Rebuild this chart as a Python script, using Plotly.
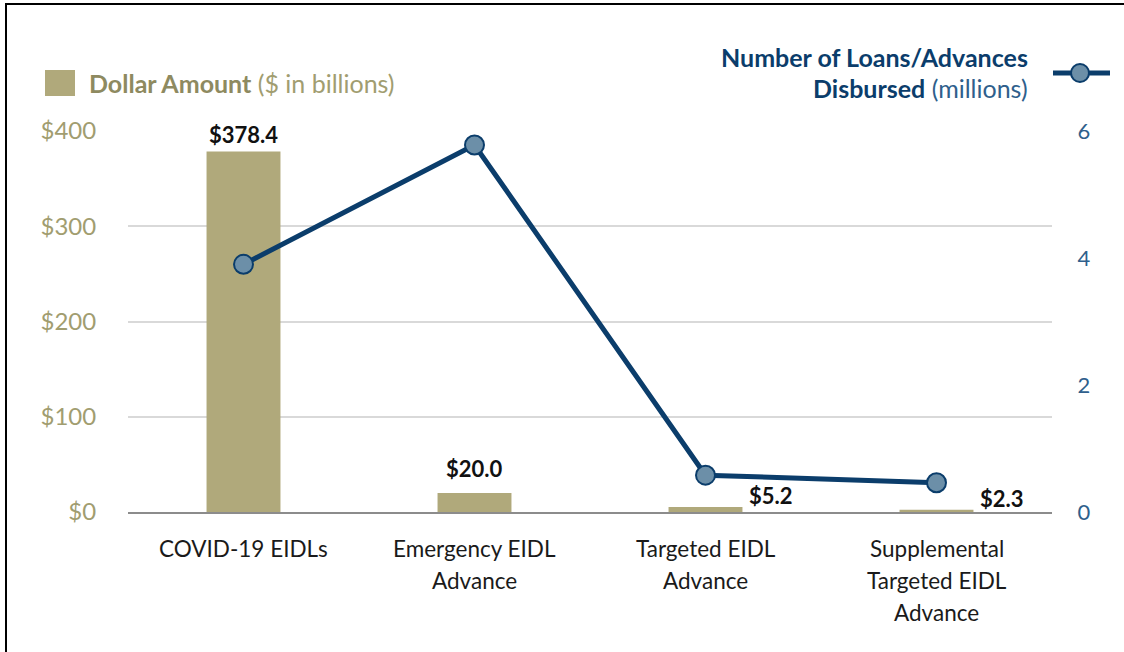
import plotly.graph_objects as go

categories = ["COVID-19 EIDLs", "Emergency EIDL<br>Advance", "Targeted EIDL<br>Advance",
              "Supplemental<br>Targeted EIDL<br>Advance"]
dollar_amounts = [378.4, 20.0, 5.2, 2.3]
dollar_labels = ["$378.4", "$20.0", "$5.2", "$2.3"]
loans_millions = [3.9, 5.78, 0.58, 0.46]
left_ticks = [0, 100, 200, 300, 400]
left_tick_text = ["$0", "$100", "$200", "$300", "$400"]
right_ticks = [0, 2, 4, 6]

BAR = "#B0A97B"
BAR_TXT = "#8E8A60"
TICK_L = "#A19D70"
NAVY = "#0B3D6B"
MARK = "#6C8FA8"
TICK_R = "#2F5F8C"
FONT = "Lato"

W, H = 1124, 652
L, R, T, B = 128, 1052, 131, 512

def px(x):
    return (x - L) / (R - L)

def py(y):
    return (B - y) / (B - T)

fig = go.Figure()
fig.add_trace(go.Bar(x=categories, y=dollar_amounts, marker=dict(color=BAR, line=dict(width=0)),
                     width=0.32, showlegend=False, hoverinfo="skip"))
fig.add_trace(go.Scatter(x=categories, y=loans_millions, yaxis="y2", mode="lines+markers",
                         line=dict(color=NAVY, width=5),
                         marker=dict(size=19, color=MARK, line=dict(color=NAVY, width=2)),
                         showlegend=False, hoverinfo="skip"))

ann = []
for c, v, t in zip(categories, dollar_amounts, dollar_labels):
    if v > 100:
        ann.append(dict(x=c, y=v, xref="x", yref="y", text="<b>%s</b>" % t, showarrow=False,
                        yanchor="bottom", yshift=2, font=dict(family=FONT, size=22, color="#111111")))
    elif v > 15:
        ann.append(dict(x=c, y=v, xref="x", yref="y", text="<b>%s</b>" % t, showarrow=False,
                        yanchor="bottom", yshift=9, font=dict(family=FONT, size=22, color="#111111")))
    else:
        ann.append(dict(x=c, y=v, xref="x", yref="y", text="<b>%s</b>" % t, showarrow=False,
                        xanchor="left", yanchor="bottom", xshift=41, yshift=-4,
                        font=dict(family=FONT, size=22, color="#111111")))

# category labels with the reference's line spacing
for c in categories:
    for i, line in enumerate(c.split("<br>")):
        ann.append(dict(x=c, y=0, xref="x", yref="paper", text=line, showarrow=False,
                        yanchor="middle", yshift=-(36 + 32 * i),
                        font=dict(family=FONT, size=22.5, color="#1A1A1A")))

ann.append(dict(x=px(87), y=py(83), xref="paper", yref="paper", xanchor="left", yanchor="middle",
                showarrow=False,
                text="<b>Dollar Amount</b> <span style='color:%s'>($ in billions)</span>" % TICK_L,
                font=dict(family=FONT, size=25, color=BAR_TXT)))
ann.append(dict(x=px(1030), y=py(57), xref="paper", yref="paper", xanchor="right", yanchor="middle",
                showarrow=False, text="<b>Number of Loans/Advances</b>",
                font=dict(family=FONT, size=25, color=NAVY)))
ann.append(dict(x=px(1030), y=py(88), xref="paper", yref="paper", xanchor="right", yanchor="middle",
                showarrow=False,
                text="<b>Disbursed</b> <span style='color:%s'>(millions)</span>" % TICK_R,
                font=dict(family=FONT, size=25, color=NAVY)))

shapes = [
    dict(type="rect", xref="paper", yref="paper", x0=px(45), x1=px(75), y0=py(96), y1=py(70),
         fillcolor=BAR, line=dict(width=0)),
    dict(type="line", xref="paper", yref="paper", x0=px(1053), x1=px(1110), y0=py(73), y1=py(73),
         line=dict(color=NAVY, width=5)),
    dict(type="circle", xref="paper", yref="paper", x0=px(1071), x1=px(1089), y0=py(82), y1=py(64),
         fillcolor=MARK, line=dict(color=NAVY, width=2)),
    dict(type="rect", xref="paper", yref="paper", x0=px(6), x1=px(1200), y0=py(720), y1=py(4),
         line=dict(color="black", width=2), fillcolor="rgba(0,0,0,0)", layer="above"),
]

fig.update_layout(
    width=W, height=H,
    margin=dict(l=L, r=W - R, t=T, b=H - B, pad=0),
    paper_bgcolor="white", plot_bgcolor="white",
    font=dict(family=FONT, size=22),
    hovermode=False,
    xaxis=dict(showgrid=False, showline=True, linecolor="#8C8C8C", linewidth=1.5,
               showticklabels=False, fixedrange=True),
    yaxis=dict(range=[0, 400], tickvals=left_ticks, ticktext=left_tick_text,
               showgrid=True, gridcolor="#D9D9D9", gridwidth=1.5, zeroline=False,
               ticks="outside", ticklen=26, tickcolor="rgba(0,0,0,0)",
               tickfont=dict(family=FONT, size=24, color=TICK_L)),
    yaxis2=dict(range=[0, 6], tickvals=right_ticks, overlaying="y", side="right",
                showgrid=False, zeroline=False, showline=False,
                ticks="outside", ticklen=20, tickcolor="rgba(0,0,0,0)",
                tickfont=dict(family=FONT, size=22, color=TICK_R)),
    annotations=ann, shapes=shapes,
)

fig.write_html("out.html", config={"displayModeBar": False},
               post_script="document.body.style.margin='0px';")
